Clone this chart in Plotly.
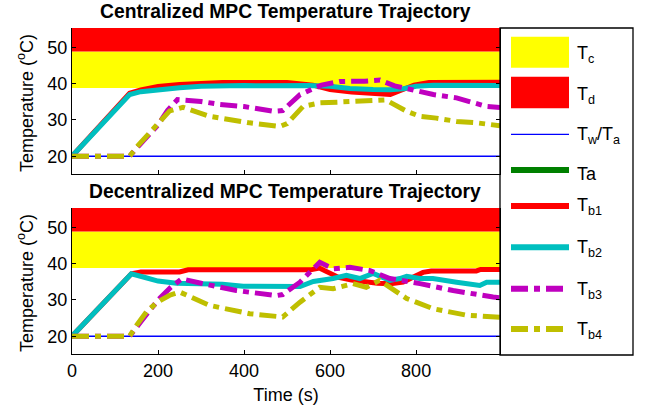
import plotly.graph_objects as go

# ---------------- data ----------------
T_C_BAND = [38.8, 48.9]      # Tc (yellow) band
T_D_BAND = [48.9, 60.0]      # Td (red) band
T_W = 20.0                   # Tw/Ta
X_RANGE = [0, 995]
Y_RANGE = [15.1, 55.35]
x_ticks = [0, 200, 400, 600, 800]
y_ticks = [20, 30, 40, 50]

# Centralized MPC
t_cen_b1 = [0, 134, 160, 200, 250, 300, 350, 400, 450, 500, 560, 600, 650, 700, 740, 765, 795, 830, 900, 950, 995]
cen_b1 = [20, 37.4, 38.3, 39.2, 39.8, 40.2, 40.3, 40.3, 40.4, 40.3, 39.6, 38.4, 37.7, 37.3, 37.0, 38.2, 39.6, 40.3, 40.4, 40.4, 40.4]
t_cen_b2 = [0, 134, 160, 200, 250, 300, 350, 400, 450, 500, 550, 600, 646, 700, 740, 770, 800, 840, 900, 950, 995]
cen_b2 = [20, 37.0, 37.8, 38.4, 38.9, 39.3, 39.5, 39.5, 39.4, 39.6, 39.5, 39.3, 38.7, 38.4, 38.3, 38.6, 39.3, 39.6, 39.6, 39.4, 39.5]
t_cen_b3 = [0, 134, 160, 200, 222, 245, 300, 343, 400, 467, 490, 530, 580, 623, 680, 716, 750, 786, 840, 894, 930, 964, 995]
cen_b3 = [20, 20, 23.5, 28.6, 32.6, 35.6, 35.1, 34.3, 33.7, 32.4, 32.6, 37.0, 39.6, 40.6, 40.7, 41.0, 39.4, 38.3, 37.0, 36.1, 34.7, 33.7, 33.4]
t_cen_b4 = [0, 134, 150, 181, 227, 258, 320, 413, 460, 483, 500, 537, 576, 645, 700, 730, 778, 809, 847, 894, 941, 980, 995]
cen_b4 = [20, 20, 22.5, 26.5, 32.5, 33.5, 31.0, 29.2, 28.7, 28.2, 29.0, 33.7, 34.7, 35.1, 35.1, 35.5, 32.4, 31.0, 30.5, 29.6, 29.2, 28.7, 28.4]

# Decentralized MPC
t_dec_b1 = [0, 138, 160, 250, 270, 555, 575, 600, 620, 650, 680, 710, 740, 770, 795, 816, 835, 940, 950, 995]
dec_b1 = [20, 37.2, 37.7, 37.7, 38.3, 38.3, 38.8, 37.4, 36.2, 35.5, 35.0, 34.6, 34.5, 34.9, 36.4, 37.6, 38.0, 38.0, 38.4, 38.4]
t_dec_b2 = [0, 138, 170, 200, 243, 300, 350, 398, 450, 500, 530, 561, 607, 638, 669, 700, 739, 762, 778, 809, 839, 894, 948, 964, 995]
dec_b2 = [20, 37.2, 36.2, 35.2, 34.6, 34.5, 34.3, 33.8, 33.7, 33.6, 33.7, 35.1, 35.9, 36.8, 35.9, 37.3, 35.4, 35.9, 36.5, 35.9, 35.9, 34.9, 34.0, 34.9, 34.9]
t_dec_b3 = [0, 134, 160, 200, 230, 255, 300, 382, 475, 490, 530, 576, 607, 646, 693, 739, 809, 886, 979, 995]
dec_b3 = [20, 20, 24.0, 30.0, 33.5, 35.8, 34.6, 32.6, 31.2, 31.5, 34.9, 40.4, 38.6, 39.0, 38.1, 35.9, 34.5, 32.6, 30.8, 30.6]
t_dec_b4 = [0, 134, 150, 175, 200, 227, 250, 320, 413, 476, 490, 530, 576, 607, 653, 684, 715, 778, 839, 917, 980, 995]
dec_b4 = [20, 20, 23.0, 27.0, 29.5, 31.3, 32.2, 28.5, 26.2, 25.3, 25.3, 29.4, 33.5, 33.1, 34.5, 33.5, 35.4, 30.4, 27.6, 25.8, 25.3, 25.2]

legend_labels = ["T<sub>c</sub>", "T<sub>d</sub>", "T<sub>w</sub>/T<sub>a</sub>", "Ta",
                 "T<sub>b1</sub>", "T<sub>b2</sub>", "T<sub>b3</sub>", "T<sub>b4</sub>"]
y_title = "Temperature (<sup>o</sup>C)"
x_title = "Time (s)"
titles = ["<b>Centralized MPC Temperature Trajectory</b>", "<b>Decentralized MPC Temperature Trajectory</b>"]

# ---------------- styles ----------------
YELLOW = "#FFFF00"
RED = "#FF0000"
BLUE = "#0000FF"
GREEN = "#008000"
CYAN = "#00BFBF"
MAGENTA = "#BF00BF"
OLIVE = "#BFBF00"
DASHDOT = "17px,6px,6px,6px"
LW = 5
FONT = "Liberation Sans, Arial, sans-serif"

W, H = 646, 413
PLOT_L, PLOT_R = 72, 500          # px of the plot area
TOP_T, TOP_B = 28, 174
BOT_T, BOT_B = 208, 354
ML = PLOT_L
MR = W - PLOT_R
MT = TOP_T
MB = H - BOT_B
PW = PLOT_R - PLOT_L
PH = BOT_B - TOP_T


def px_x(px):
    return (px - PLOT_L) / PW


def px_y(py):
    return (BOT_B - py) / PH


fig = go.Figure()

series = [
    (t_cen_b1, cen_b1, t_dec_b1, dec_b1, dict(color=RED, width=LW)),
    (t_cen_b2, cen_b2, t_dec_b2, dec_b2, dict(color=CYAN, width=LW)),
    (t_cen_b3, cen_b3, t_dec_b3, dec_b3, dict(color=MAGENTA, width=LW, dash=DASHDOT)),
    (t_cen_b4, cen_b4, t_dec_b4, dec_b4, dict(color=OLIVE, width=LW, dash=DASHDOT)),
]

for xa, ya in (("x", "y"), ("x2", "y2")):
    fig.add_trace(go.Scatter(x=X_RANGE, y=[T_W, T_W], mode="lines",
                             line=dict(color=BLUE, width=1.3), xaxis=xa, yaxis=ya,
                             showlegend=False, hoverinfo="skip"))

for tc, yc, td, yd, ln in series:
    fig.add_trace(go.Scatter(x=tc, y=yc, mode="lines", line=ln, xaxis="x", yaxis="y", showlegend=False))
    fig.add_trace(go.Scatter(x=td, y=yd, mode="lines", line=ln, xaxis="x2", yaxis="y2", showlegend=False))

shapes = []
for xr, yr in (("x", "y"), ("x2", "y2")):
    shapes.append(dict(type="rect", xref=xr, yref=yr, x0=X_RANGE[0], x1=X_RANGE[1] + 50,
                       y0=T_C_BAND[0], y1=T_C_BAND[1], fillcolor=YELLOW, line_width=0, layer="below"))
    shapes.append(dict(type="rect", xref=xr, yref=yr, x0=X_RANGE[0], x1=X_RANGE[1] + 50,
                       y0=T_D_BAND[0], y1=T_D_BAND[1], fillcolor=RED, line_width=0, layer="below"))

# manual legend box
shapes.append(dict(type="rect", xref="paper", yref="paper", x0=px_x(500), x1=px_x(633),
                   y0=px_y(355), y1=px_y(28), line=dict(color="black", width=1.3), fillcolor="rgba(0,0,0,0)"))
sx0, sx1 = px_x(511), px_x(569)
shapes.append(dict(type="rect", xref="paper", yref="paper", x0=sx0, x1=sx1, y0=px_y(67.7), y1=px_y(36.7),
                   fillcolor=YELLOW, line_width=0))
shapes.append(dict(type="rect", xref="paper", yref="paper", x0=sx0, x1=sx1, y0=px_y(108.3), y1=px_y(76.7),
                   fillcolor=RED, line_width=0))
leg_lines = [
    (134.3, dict(color=BLUE, width=1.3)),
    (170, dict(color=GREEN, width=6)),
    (206, dict(color=RED, width=6)),
    (247.3, dict(color=CYAN, width=6)),
    (288.7, dict(color=MAGENTA, width=6, dash=DASHDOT)),
    (329, dict(color=OLIVE, width=6, dash=DASHDOT)),
]
for py, ln in leg_lines:
    shapes.append(dict(type="line", xref="paper", yref="paper", x0=sx0, x1=sx1,
                       y0=px_y(py), y1=px_y(py), line=ln))

label_y = [55, 95, 135, 174, 206, 248, 290, 330]
annotations = []
for lab, py in zip(legend_labels, label_y):
    annotations.append(dict(text=lab, xref="paper", yref="paper", x=px_x(575), y=px_y(py),
                            xanchor="left", yanchor="middle", showarrow=False,
                            font=dict(size=18, color="black", family=FONT)))

for txt, py in zip(titles, (11, 191)):
    annotations.append(dict(text=txt, xref="paper", yref="paper",
                            x=px_x(285), y=px_y(py), xanchor="center", yanchor="middle", showarrow=False,
                            font=dict(size=19.3, color="black", family=FONT)))

# y-axis titles, one per panel
for py in ((TOP_T + TOP_B) / 2 + 2, (BOT_T + BOT_B) / 2 + 2):
    annotations.append(dict(text=y_title, xref="paper", yref="paper", x=px_x(25), y=px_y(py),
                            xanchor="center", yanchor="middle", textangle=-90, showarrow=False,
                            font=dict(size=18, color="black", family=FONT)))

axis_common = dict(showgrid=False, zeroline=False, showline=True, linecolor="black", linewidth=1.3,
                   ticks="inside", ticklen=4, tickcolor="black",
                   tickfont=dict(size=18, color="black", family=FONT))

fig.update_layout(
    width=W, height=H,
    margin=dict(l=ML, r=MR, t=MT, b=MB),
    paper_bgcolor="white", plot_bgcolor="white",
    showlegend=False,
    shapes=shapes, annotations=annotations,
    xaxis=dict(domain=[0, 1], anchor="y", range=X_RANGE, tickvals=x_ticks, showticklabels=False,
               matches="x2", **axis_common),
    yaxis=dict(domain=[px_y(TOP_B), 1], anchor="x", range=Y_RANGE, tickvals=y_ticks, mirror="ticks",
               **axis_common),
    xaxis2=dict(domain=[0, 1], anchor="y2", range=X_RANGE, tickvals=x_ticks,
                title=dict(text=x_title, font=dict(size=18, color="black", family=FONT), standoff=8),
                **axis_common),
    yaxis2=dict(domain=[0, px_y(BOT_T)], anchor="x2", range=Y_RANGE, tickvals=y_ticks, mirror="ticks",
                **axis_common),
)

# remove the default 8px page margin so the figure sits at the window's top-left corner
fig.write_html("out.html", config={"displayModeBar": False},
               post_script="document.body.style.margin='0px';")
